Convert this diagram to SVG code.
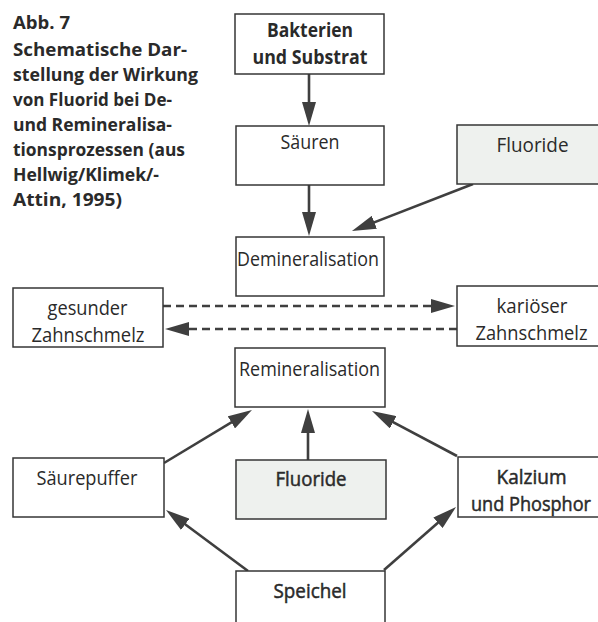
<svg xmlns="http://www.w3.org/2000/svg" width="598" height="622" viewBox="0 0 598 622">
<defs>
<style>
.box{fill:#fff;stroke:#363636;stroke-width:1.5}
.grey{fill:#eef1ee}
.t{font-family:"Open Sans","Liberation Sans",sans-serif;font-size:20px;fill:#2a2a2a;text-anchor:middle}
.b{font-weight:700}
.m{stroke:#2a2a2a;stroke-width:0.5}
.title{font-family:"Open Sans","Liberation Sans",sans-serif;font-size:18.5px;font-weight:700;fill:#2a2a2a}
.c{fill:none;stroke:#3f3f3f;stroke-width:2.6}
.d{stroke-dasharray:8 5}
</style>
<marker id="ah" viewBox="0 0 24 14" markerWidth="24" markerHeight="14" refX="14" refY="7" orient="auto" markerUnits="userSpaceOnUse">
<path d="M0,0 L24,7 L0,14 z" fill="#3f3f3f"/>
</marker>
</defs>

<g id="caption">
<text class="title" x="13" y="29" textLength="57" lengthAdjust="spacingAndGlyphs">Abb. 7</text>
<text class="title" x="13" y="56" textLength="174" lengthAdjust="spacingAndGlyphs">Schematische Dar-</text>
<text class="title" x="13" y="81" textLength="185" lengthAdjust="spacingAndGlyphs">stellung der Wirkung</text>
<text class="title" x="13" y="106" textLength="159" lengthAdjust="spacingAndGlyphs">von Fluorid bei De-</text>
<text class="title" x="13" y="131" textLength="159" lengthAdjust="spacingAndGlyphs">und Remineralisa-</text>
<text class="title" x="13" y="156" textLength="172" lengthAdjust="spacingAndGlyphs">tionsprozessen (aus</text>
<text class="title" x="13" y="181" textLength="146" lengthAdjust="spacingAndGlyphs">Hellwig/Klimek/-</text>
<text class="title" x="13" y="206" textLength="109" lengthAdjust="spacingAndGlyphs">Attin, 1995)</text>
</g>

<g id="connectors">
<line class="c" x1="309" y1="74" x2="309" y2="116" marker-end="url(#ah)"/>
<line class="c" x1="309" y1="185" x2="309" y2="226" marker-end="url(#ah)"/>
<line class="c" x1="473" y1="184" x2="361.3" y2="227.4" marker-end="url(#ah)"/>
<line class="c d" x1="163" y1="306" x2="445" y2="306" marker-end="url(#ah)"/>
<line class="c d" x1="457" y1="329" x2="175" y2="329" marker-end="url(#ah)"/>
<line class="c" x1="164" y1="463" x2="243.4" y2="415.2" marker-end="url(#ah)"/>
<line class="c" x1="308" y1="460" x2="308" y2="419" marker-end="url(#ah)"/>
<line class="c" x1="457" y1="456" x2="380.8" y2="415.7" marker-end="url(#ah)"/>
<line class="c" x1="248" y1="571" x2="174" y2="516" marker-end="url(#ah)"/>
<line class="c" x1="384" y1="570" x2="448.5" y2="513.6" marker-end="url(#ah)"/>
</g>

<g id="bakterien">
<rect class="box" x="235" y="14" width="149" height="60"/>
<text class="t b" x="310" y="37" textLength="86" lengthAdjust="spacingAndGlyphs">Bakterien</text>
<text class="t b" x="310" y="64" textLength="115" lengthAdjust="spacingAndGlyphs">und Substrat</text>
</g>

<g id="saeuren">
<rect class="box" x="236" y="126" width="148" height="59"/>
<text class="t" x="310" y="149" textLength="59" lengthAdjust="spacingAndGlyphs">Säuren</text>
</g>

<g id="fluoride-top">
<rect class="box grey" x="457" y="125" width="145" height="59"/>
<text class="t" x="532.5" y="152" textLength="72" lengthAdjust="spacingAndGlyphs">Fluoride</text>
</g>

<g id="demineralisation">
<rect class="box" x="236" y="237" width="148" height="59"/>
<text class="t" x="308" y="266" textLength="142" lengthAdjust="spacingAndGlyphs">Demineralisation</text>
</g>

<g id="gesunder">
<rect class="box" x="13" y="288" width="150" height="59"/>
<text class="t" x="87.5" y="315" textLength="80" lengthAdjust="spacingAndGlyphs">gesunder</text>
<text class="t" x="88" y="342" textLength="113" lengthAdjust="spacingAndGlyphs">Zahnschmelz</text>
</g>

<g id="karioeser">
<rect class="box" x="457" y="286" width="145" height="60"/>
<text class="t" x="532" y="313" textLength="71" lengthAdjust="spacingAndGlyphs">kariöser</text>
<text class="t" x="531.5" y="340" textLength="112" lengthAdjust="spacingAndGlyphs">Zahnschmelz</text>
</g>

<g id="remineralisation">
<rect class="box" x="235" y="348" width="150" height="59"/>
<text class="t" x="309.5" y="376" textLength="141" lengthAdjust="spacingAndGlyphs">Remineralisation</text>
</g>

<g id="saeurepuffer">
<rect class="box" x="13" y="458" width="151" height="59"/>
<text class="t" x="87" y="485" textLength="101" lengthAdjust="spacingAndGlyphs">Säurepuffer</text>
</g>

<g id="fluoride-mid">
<rect class="box grey" x="236" y="460" width="150" height="59"/>
<text class="t m" x="311" y="486" textLength="71" lengthAdjust="spacingAndGlyphs">Fluoride</text>
</g>

<g id="kalzium">
<rect class="box" x="458" y="457" width="144" height="60"/>
<text class="t m" x="531.5" y="484" textLength="70" lengthAdjust="spacingAndGlyphs">Kalzium</text>
<text class="t m" x="531" y="511" textLength="120" lengthAdjust="spacingAndGlyphs">und Phosphor</text>
</g>

<g id="speichel">
<rect class="box" x="236" y="571" width="149" height="60"/>
<text class="t m" x="310" y="598" textLength="73" lengthAdjust="spacingAndGlyphs">Speichel</text>
</g>
</svg>
